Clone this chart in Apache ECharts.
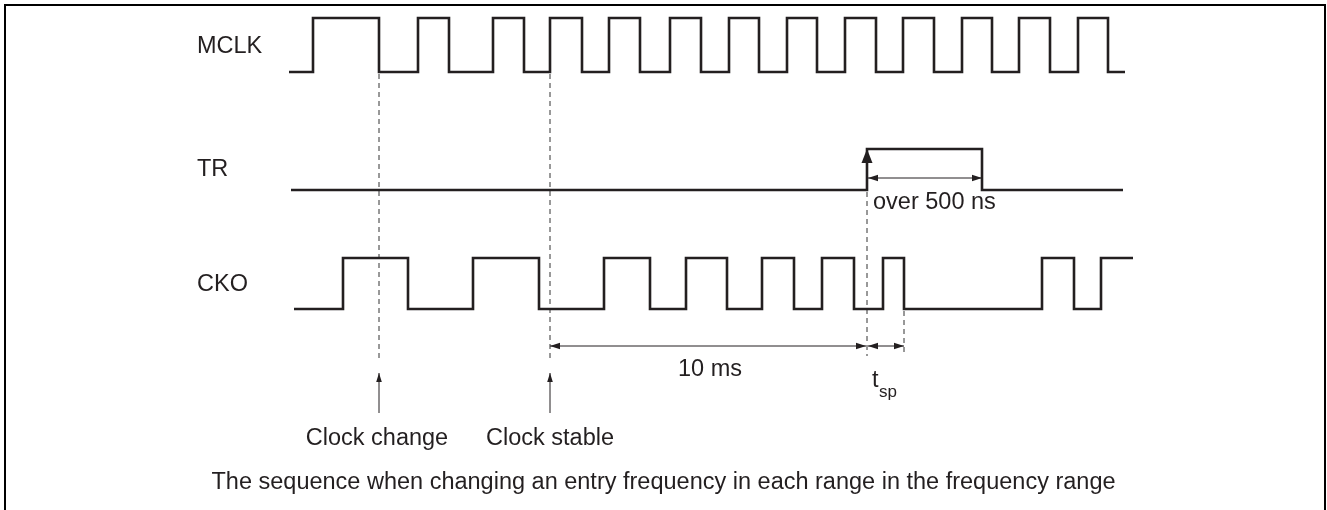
<!DOCTYPE html>
<html><head><meta charset="utf-8">
<script src="https://cdn.jsdelivr.net/npm/echarts@6/dist/echarts.min.js"></script>
<style>html,body{margin:0;padding:0;background:#fff}#c{width:1327px;height:510px}</style>
</head><body><div id="c"></div>
<script>
// ---------- DATA (time axis in drawing units) ----------
const signalNames = ['MCLK', 'TR', 'CKO'];
const mclkStart = 289, mclkEnd = 1125, mclkInit = 0;
const mclkEdges = [313, 379, 418, 449, 493, 524, 550, 582, 609, 640, 670, 701, 729, 759, 787, 817, 845, 876, 903, 934, 962, 992, 1019, 1050, 1078, 1108];
const trStart = 291, trEnd = 1123, trInit = 0;
const trEdges = [867, 982];
const ckoStart = 294, ckoEnd = 1133, ckoInit = 0;
const ckoEdges = [343, 408, 473, 539, 604, 650, 686, 727, 762, 794, 822, 854, 883, 904, 1042, 1074, 1101];
const clockChangeT = 379, clockStableT = 550, trRiseT = 867, tspEndT = 904, trFallT = 982;
const eventLabels = ['Clock change', 'Clock stable'];
const spanLabels = ['10 ms', 'over 500 ns'];
const tspLabel = ['t', 'sp'];
const captionText = 'The sequence when changing an entry frequency in each range in the frequency range';

// ---------- LAYOUT ----------
const W = 1327, H = 510;
const lanes = {
  MCLK: { hi: 18, lo: 72, labelY: 47 },
  TR:   { hi: 149, lo: 190, labelY: 170 },
  CKO:  { hi: 258, lo: 309, labelY: 285 }
};
const labelX = 197;
const dimY = 346, trDimY = 178;
const guideEndY = 358, guideEndY2 = 356;
const evArrowTip = 373, evArrowTail = 413, evTextY = 439;
const FONT = '"Liberation Sans", Arial, Helvetica, sans-serif';
const INK = '#231f20';

function stepData(start, end, init, edges, lane) {
  const y = l => (l ? lane.hi : lane.lo);
  let lvl = init;
  const pts = [[start, y(lvl)]];
  edges.forEach(e => { pts.push([e, y(lvl)]); lvl = 1 - lvl; pts.push([e, y(lvl)]); });
  pts.push([end, y(lvl)]);
  return pts;
}
const signalSeries = [
  stepData(mclkStart, mclkEnd, mclkInit, mclkEdges, lanes.MCLK),
  stepData(trStart, trEnd, trInit, trEdges, lanes.TR),
  stepData(ckoStart, ckoEnd, ckoInit, ckoEdges, lanes.CKO)
].map(d => ({
  type: 'line', data: d, symbol: 'none', animation: false, silent: true,
  lineStyle: { color: INK, width: 2.6, join: 'miter', cap: 'butt' }
}));

const guides = [
  [clockChangeT, lanes.MCLK.lo + 2, guideEndY],
  [clockStableT, lanes.MCLK.lo + 2, guideEndY],
  [trRiseT, lanes.TR.lo + 2, guideEndY2],
  [tspEndT, lanes.CKO.lo + 2, guideEndY2]
];
const guideSeries = guides.map(g => ({
  type: 'line', data: [[g[0], g[1]], [g[0], g[2]]], symbol: 'none', animation: false, silent: true,
  lineStyle: { color: '#333', width: 1, type: [5, 4] }
}));

// arrows: [x1,y1,x2,y2, headAtStart, headAtEnd, headLen, headHalf, lineWidth]
const arrows = [
  [clockStableT, dimY, trRiseT - 1, dimY, 1, 1, 10, 3.2, 1],
  [trRiseT + 1, dimY, tspEndT, dimY, 1, 1, 10, 3.2, 1],
  [trRiseT + 1, trDimY, trFallT, trDimY, 1, 1, 10, 3.2, 1],
  [clockChangeT, evArrowTail, clockChangeT, evArrowTip, 0, 1, 9, 2.8, 1],
  [clockStableT, evArrowTail, clockStableT, evArrowTip, 0, 1, 9, 2.8, 1],
  [trRiseT, lanes.TR.lo, trRiseT, lanes.TR.hi, 0, 1, 14, 5.5, 0]
];
function head(tip, from, len, half) {
  const dx = tip[0] - from[0], dy = tip[1] - from[1];
  const L = Math.hypot(dx, dy) || 1, ux = dx / L, uy = dy / L;
  const bx = tip[0] - ux * len, by = tip[1] - uy * len;
  return [[tip[0], tip[1]], [bx - uy * half, by + ux * half], [bx + uy * half, by - ux * half]];
}
const arrowSeries = {
  type: 'custom', animation: false, silent: true,
  data: arrows.map((a, i) => [i]),
  renderItem: function (params, api) {
    const a = arrows[params.dataIndex];
    const p1 = api.coord([a[0], a[1]]), p2 = api.coord([a[2], a[3]]);
    const children = [];
    if (a[8] > 0) children.push({ type: 'line', shape: { x1: p1[0], y1: p1[1], x2: p2[0], y2: p2[1] }, style: { stroke: INK, lineWidth: a[8] } });
    if (a[4]) children.push({ type: 'polygon', shape: { points: head(p1, p2, a[6], a[7]) }, style: { fill: INK } });
    if (a[5]) children.push({ type: 'polygon', shape: { points: head(p2, p1, a[6], a[7]) }, style: { fill: INK } });
    return { type: 'group', children: children };
  }
};

// texts: [text, x, y, align, size]
const texts = [
  [signalNames[0], labelX, lanes.MCLK.labelY, 'left', 23.5],
  [signalNames[1], labelX, lanes.TR.labelY, 'left', 23.5],
  [signalNames[2], labelX, lanes.CKO.labelY, 'left', 23.5],
  [eventLabels[0], clockChangeT - 2, evTextY, 'center', 23.5],
  [eventLabels[1], clockStableT, evTextY, 'center', 23.5],
  [spanLabels[0], 710, 370, 'center', 23.5],
  [spanLabels[1], trRiseT + 6, 203, 'left', 23.5],
  [tspLabel[0], trRiseT + 5, 381, 'left', 23.5],
  [tspLabel[1], trRiseT + 12, 392, 'left', 17],
  [captionText, W / 2, 483, 'center', 23.5]
];
const textSeries = {
  type: 'custom', animation: false, silent: true,
  data: texts.map((t, i) => [i]),
  renderItem: function (params, api) {
    const t = texts[params.dataIndex];
    const p = api.coord([t[1], t[2]]);
    return { type: 'text', x: p[0], y: p[1], style: { text: t[0], fill: INK, font: t[4] + 'px ' + FONT, align: t[3], verticalAlign: 'middle' } };
  }
};

const chart = echarts.init(document.getElementById('c'), null, { renderer: 'canvas' });
chart.setOption({
  animation: false,
  backgroundColor: '#fff',
  grid: { left: 0, right: 0, top: 0, bottom: 0 },
  xAxis: { type: 'value', min: 0, max: W, show: false },
  yAxis: { type: 'value', min: 0, max: H, inverse: true, show: false },
  graphic: [{ type: 'rect', shape: { x: 5, y: 5, width: 1320, height: 510 }, style: { fill: 'none', stroke: '#000', lineWidth: 2 }, silent: true }],
  series: [].concat(guideSeries, signalSeries, [arrowSeries, textSeries])
});
</script></body></html>
